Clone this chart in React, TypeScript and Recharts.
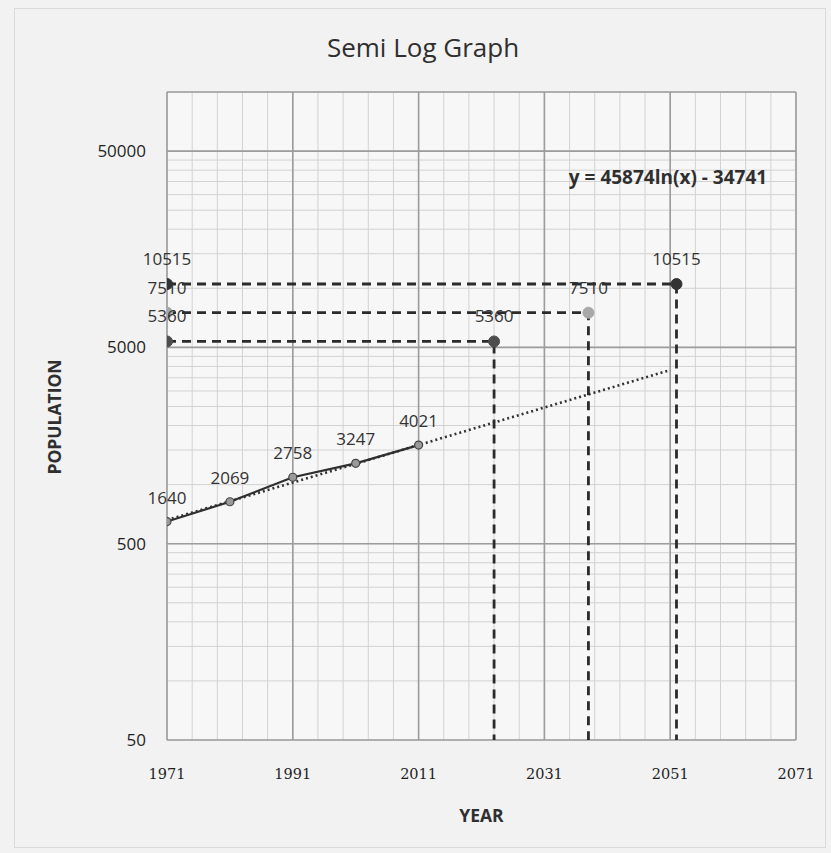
import React from 'react';
import { LineChart, Line, XAxis, YAxis, CartesianGrid, LabelList } from 'recharts';

// Historical census data
const years = [1971, 1981, 1991, 2001, 2011];
const population = [1640, 2069, 2758, 3247, 4021];

// Trend line (dotted) end points
const trendYears = [1971, 2051];
const trendValues = [1670, 9700];

// Projections (dashed guide lines)
const projYears = [2023, 2038, 2052];
const projValues = [5360, 7510, 10515];
const projColors = ['#4d4d4d', '#a8a8a8', '#333333'];

// Axis ticks
const xTicks = [1971, 1991, 2011, 2031, 2051, 2071];
const yTicks = [50, 500, 5000, 50000];
const xDomain = [1971, 2071];
const yDomain = [50, 100000];
const histDomain = [126.5, 253000];

const xMinor: number[] = [];
for (let y = 1971; y <= 2071; y += 4) xMinor.push(y);
const yMinor: number[] = [];
for (const d of [50, 500, 5000]) {
  for (let k = 1; k <= 9; k++) yMinor.push(d * k);
}
yMinor.push(50000, 100000);

const startYear = 1971;
const baseValue = 50;

const histData = years.map((yr, i) => ({ year: yr, pop: population[i] }));
const trendData = trendYears.map((yr, i) => ({ year: yr, trend: trendValues[i] }));
const projData = projValues.map((v, i) => [
  { year: startYear, v, label: String(v) },
  { year: projYears[i], v, label: String(v) },
  { year: projYears[i], v: baseValue, label: '' },
]);

const SANS = 'Open Sans, sans-serif';

const makeDot = (fill: string) => (props: any) => {
  const { cx, cy, index } = props;
  if (index > 1 || cx == null || cy == null) return <g key={`e${index}`} />;
  return <circle key={`d${index}`} cx={cx} cy={cy} r={5.5} fill={fill} stroke={fill} strokeWidth={1} />;
};

export default function App() {
  return (
    <div style={{ position: 'absolute', left: 0, top: 0, width: 831, height: 853, background: '#f2f2f2', overflow: 'hidden' }}>
      <div style={{ position: 'absolute', left: 14, top: 8, width: 812, height: 840, border: '1px solid #dadada', boxSizing: 'border-box' }} />
      <div
        style={{
          position: 'absolute', left: 223, top: 30, width: 400, textAlign: 'center',
          fontFamily: SANS, fontSize: 26, lineHeight: '34px', color: '#2f2f2f',
        }}
      >
        Semi Log Graph
      </div>
      <div style={{ position: 'absolute', left: 0, top: 0 }}>
        <LineChart width={831} height={853} margin={{ top: 92, right: 35, bottom: 0, left: 0 }}>
          <XAxis
            xAxisId="x"
            type="number"
            dataKey="year"
            domain={xDomain}
            ticks={xTicks}
            interval={0}
            allowDataOverflow
            axisLine={false}
            tickLine={false}
            tickSize={0}
            tickMargin={29}
            height={113}
            tick={{ fontFamily: 'DejaVu Serif, serif', fontSize: 14.5, fill: '#1f1f1f' }}
            label={{ value: 'YEAR', position: 'insideTop', offset: 70, fontFamily: SANS, fontWeight: 700, fontSize: 17.5, fill: '#2f2f2f' }}
          />
          <YAxis
            yAxisId="y"
            type="number"
            scale="log"
            domain={yDomain}
            ticks={yTicks}
            interval={0}
            allowDataOverflow
            width={167}
            axisLine={false}
            tickLine={false}
            tickSize={0}
            tickMargin={21}
            tick={{ fontFamily: SANS, fontSize: 17, fill: '#1f1f1f' }}
          />
          <XAxis xAxisId="xm" type="number" dataKey="year" domain={xDomain} ticks={xMinor} interval={0} hide height={0} allowDataOverflow />
          <YAxis yAxisId="ym" type="number" scale="log" domain={yDomain} ticks={yMinor} interval={0} hide width={0} allowDataOverflow />
          <YAxis yAxisId="h" type="number" scale="log" domain={histDomain} hide width={0} allowDataOverflow />
          <CartesianGrid xAxisId="xm" yAxisId="ym" stroke="#d2d2d2" strokeWidth={1} fill="#f7f7f7" />
          <CartesianGrid xAxisId="x" yAxisId="y" stroke="#9c9c9c" strokeWidth={1.6} />

          <Line
            data={trendData}
            xAxisId="x"
            yAxisId="h"
            dataKey="trend"
            type="linear"
            stroke="#333"
            strokeWidth={2.6}
            strokeDasharray="2 3"
            dot={false}
            isAnimationActive={false}
          />
          <Line
            data={histData}
            xAxisId="x"
            yAxisId="h"
            dataKey="pop"
            type="linear"
            stroke="#2f2f2f"
            strokeWidth={2.2}
            dot={{ r: 4, fill: '#9a9a9a', stroke: '#444', strokeWidth: 1.2 }}
            isAnimationActive={false}
          >
            <LabelList dataKey="pop" position="top" offset={18} fontFamily={SANS} fontSize={17} fill="#333" />
          </Line>
          {projData.map((d, i) => (
            <Line
              key={`proj${i}`}
              data={d}
              xAxisId="x"
              yAxisId="y"
              dataKey="v"
              type="linear"
              stroke="#2b2b2b"
              strokeWidth={2.8}
              strokeDasharray="9 6"
              dot={makeDot(projColors[i])}
              isAnimationActive={false}
            >
              <LabelList dataKey="label" position="top" offset={19} fontFamily={SANS} fontSize={17} fill="#333" />
            </Line>
          ))}
        </LineChart>
      </div>
      <div
        style={{
          position: 'absolute', left: -6, top: 405, width: 120, textAlign: 'center',
          transform: 'rotate(-90deg)', transformOrigin: '60px 12px',
          fontFamily: SANS, fontWeight: 700, fontSize: 17.5, lineHeight: '24px', color: '#2f2f2f',
        }}
      >
        POPULATION
      </div>
      <div
        style={{
          position: 'absolute', left: 518, top: 164, width: 300, textAlign: 'center',
          fontFamily: SANS, fontWeight: 700, fontSize: 19, lineHeight: '26px', color: '#2f2f2f',
        }}
      >
        y = 45874ln(x) - 34741
      </div>
    </div>
  );
}
